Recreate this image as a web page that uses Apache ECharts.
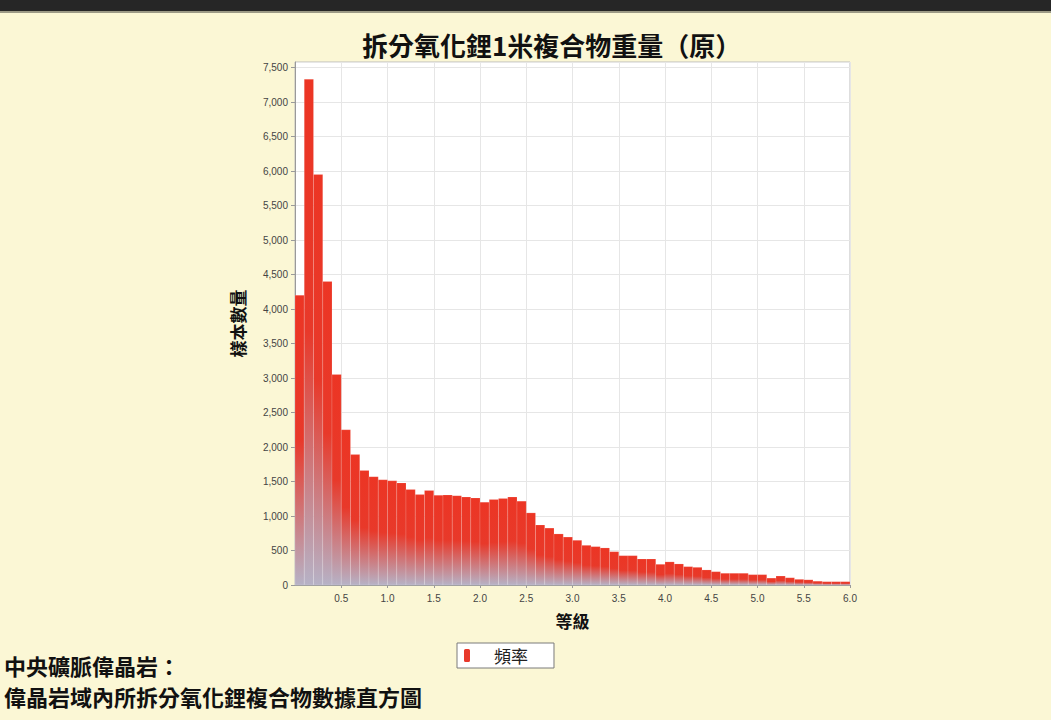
<!DOCTYPE html>
<html>
<head>
<meta charset="utf-8">
<script src="https://cdn.jsdelivr.net/npm/echarts@6/dist/echarts.min.js"></script>
<style>
html,body{margin:0;padding:0;background:#FBF7D5;}
#chart{width:1051px;height:720px;}
</style>
</head>
<body>
<div id="chart"></div>
<script>
// Histogram bins (width 0.1, from 0.0 to 6.0)
var binStarts = [];
for (var i = 0; i < 60; i++) { binStarts.push(+(i * 0.1).toFixed(1)); }
var binWidth = 0.1;
var frequencies = [
  4200, 7330, 5950, 4400, 3050, 2250, 1890, 1660, 1570, 1525,
  1510, 1480, 1385, 1310, 1370, 1300, 1305, 1295, 1275, 1262,
  1200, 1240, 1255, 1275, 1215, 1045, 870, 825, 740, 695,
  648, 575, 556, 537, 483, 425, 425, 377, 377, 300,
  335, 305, 266, 256, 218, 193, 170, 170, 170, 150,
  150, 100, 130, 105, 82, 75, 55, 48, 48, 48
];
var titleText = '拆分氧化鋰1米複合物重量（原）';
var xAxisName = '等級';
var yAxisName = '樣本數量';
var seriesName = '頻率';
var captionLine1 = '中央礦脈偉晶岩：';
var captionLine2 = '偉晶岩域內所拆分氧化鋰複合物數據直方圖';

var data = binStarts.map(function (s, i) {
  return [s, +(s + binWidth).toFixed(1), frequencies[i]];
});

var CJK = '"Noto Sans CJK TC", "Noto Sans", sans-serif';
var LAT = '"Liberation Sans", Arial, sans-serif';

var chart = echarts.init(document.getElementById('chart'), null, {renderer: 'svg'});
chart.setOption({
  backgroundColor: '#FBF7D5',
  animation: false,
  title: {
    text: titleText,
    left: 357,
    top: 24,
    textStyle: {fontFamily: CJK, fontSize: 26, fontWeight: 'bold', color: '#111', lineHeight: 30}
  },
  legend: {
    data: [{name: seriesName, icon: 'roundRect'}],
    left: 457,
    top: 643,
    itemWidth: 6,
    itemHeight: 13,
    padding: [4, 26, 4, 7],
    borderColor: '#7a7a7a',
    borderWidth: 1,
    backgroundColor: '#ffffff',
    textStyle: {fontFamily: CJK, fontSize: 17, color: '#222', padding: [0, 0, 0, 19]}
  },
  grid: {
    left: 295, right: 201, top: 62, bottom: 135,
    show: true, backgroundColor: '#ffffff', borderColor: '#bdbdbd', borderWidth: 1
  },
  xAxis: {
    type: 'value', min: 0, max: 6, interval: 0.5,
    name: xAxisName, nameLocation: 'middle', nameGap: 27,
    nameTextStyle: {fontFamily: CJK, fontSize: 17, fontWeight: 'bold', color: '#111'},
    axisLine: {show: true, lineStyle: {color: '#9a9a9a'}},
    axisTick: {show: true, length: 3, lineStyle: {color: '#9a9a9a'}},
    axisLabel: {showMinLabel: false, fontFamily: LAT, fontSize: 10, color: '#444', margin: 8,
      formatter: function (v) { return v.toFixed(1); }},
    splitLine: {show: true, lineStyle: {color: '#e6e6e6', width: 1}}
  },
  yAxis: {
    type: 'value', min: 0, max: 7580, interval: 500,
    name: yAxisName, nameLocation: 'middle', nameGap: 49, nameRotate: 90,
    nameTextStyle: {fontFamily: CJK, fontSize: 17, fontWeight: 'bold', color: '#111'},
    axisLine: {show: true, lineStyle: {color: '#9a9a9a'}},
    axisTick: {show: true, length: 4, lineStyle: {color: '#9a9a9a'}},
    axisLabel: {showMaxLabel: false, fontFamily: LAT, fontSize: 10, color: '#444', margin: 7,
      formatter: function (v) { return v.toLocaleString('en-US'); }},
    splitLine: {show: true, lineStyle: {color: '#e6e6e6', width: 1}}
  },
  series: [{
    name: seriesName,
    type: 'custom',
    itemStyle: {color: '#E8392A'},
    encode: {x: [0, 1], y: 2},
    data: data,
    renderItem: function (params, api) {
      var p0 = api.coord([api.value(0), api.value(2)]);
      var p1 = api.coord([api.value(1), 0]);
      return {
        type: 'rect',
        shape: {x: p0[0], y: p0[1], width: p1[0] - p0[0], height: p1[1] - p0[1]},
        style: {
          fill: {
            type: 'linear', x: 0, y: 0, x2: 0, y2: 1,
            colorStops: [
              {offset: 0, color: '#EC3524'},
              {offset: 0.5, color: '#E8392A'},
              {offset: 1, color: '#B6B2C6'}
            ]
          },
          stroke: 'rgba(255,255,255,0.14)',
          lineWidth: 1
        }
      };
    }
  }],
  graphic: [
    {type: 'rect', left: 0, top: 0, shape: {width: 1051, height: 11}, style: {fill: '#262626'}},
    {type: 'rect', left: 0, top: 11, shape: {width: 1051, height: 2}, style: {fill: '#9c9a86'}},
    {type: 'text', left: 4, top: 654,
      style: {text: captionLine1, font: 'bold 22px ' + CJK, lineHeight: 22, fill: '#111'}},
    {type: 'text', left: 4, top: 685,
      style: {text: captionLine2, font: 'bold 22px ' + CJK, lineHeight: 22, fill: '#111'}}
  ]
});
</script>
</body>
</html>
